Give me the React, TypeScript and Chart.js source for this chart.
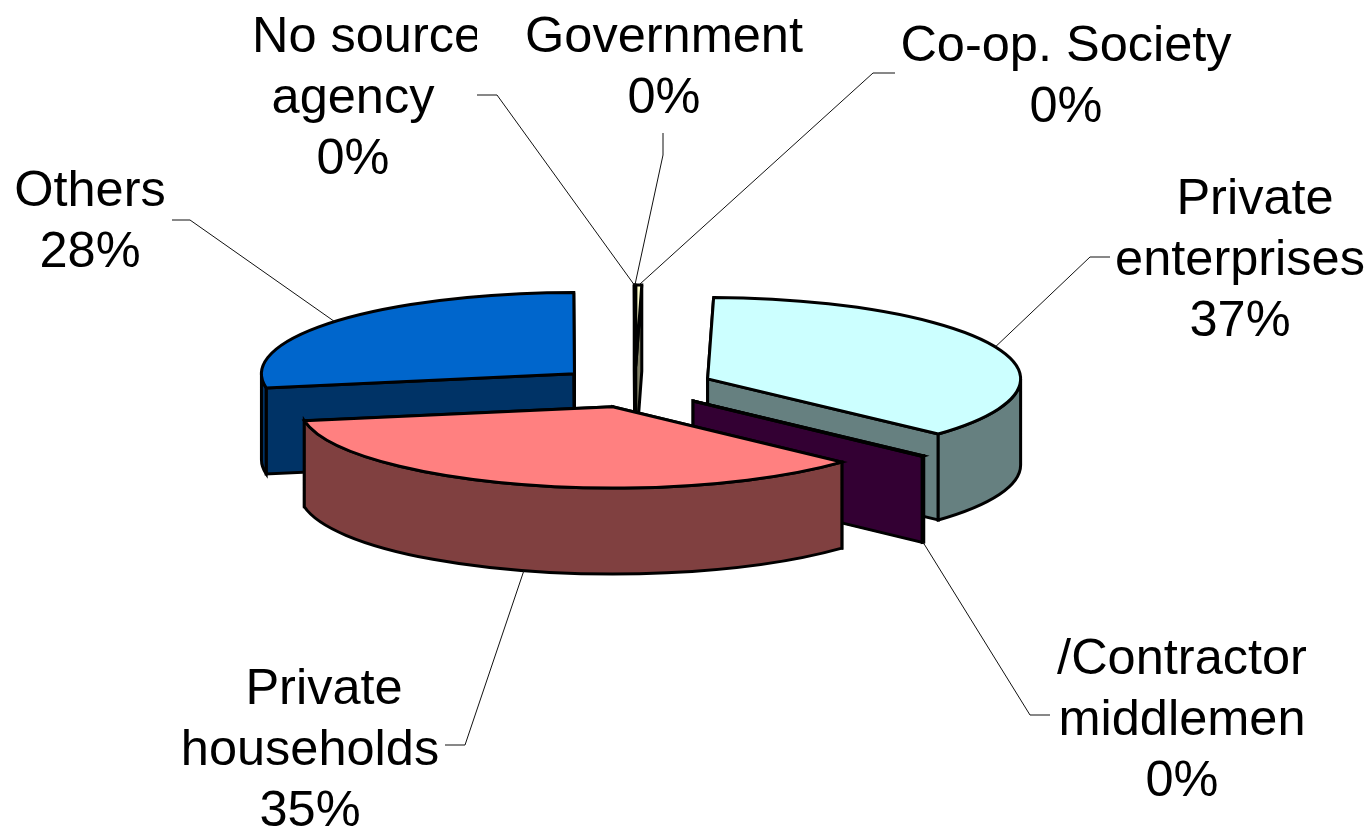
import React, { useEffect, useRef } from "react";
import { Chart, registerables } from "chart.js";

Chart.register(...registerables);

const categories = [
  "Private enterprises",
  "/Contractor middlemen",
  "Private households",
  "Others",
  "No source agency",
  "Government",
  "Co-op. Society",
];
const shares = [36.6, 0.1, 35.4, 27.8, 0.02, 0.02, 0.3];
const topColors = ["#CCFFFF", "#660066", "#FF8080", "#0066CC", "#CCFFCC", "#FFFFCC", "#FFFFCC"];
const sideColors = ["#668080", "#330033", "#804040", "#003366", "#668066", "#808066", "#808066"];

const paintOrder = [3, 4, 5, 6, 0, 1, 2];

const TILT = 0.26;
const DEPTH = 86;
const EXPLODE = 79;
const RADIUS = 313;
const FONT = '50.5px "Liberation Sans", Arial, sans-serif';
const LINE_GAP = 61;

type LabelLayout = {
  index: number;
  lines: string[];
  xs: number[];
  y: number;
  clipRight?: number;
  anchor: "top" | "bottom";
  elbow: [number, number];
  stubX: number;
};

const labelLayouts: LabelLayout[] = [
  { index: 0, lines: ["Private", "enterprises"], xs: [1255, 1240, 1240], y: 200, anchor: "top", elbow: [1090, 257], stubX: 1110 },
  { index: 1, lines: ["/Contractor", "middlemen"], xs: [1182, 1182, 1182], y: 660, anchor: "bottom", elbow: [1030, 715], stubX: 1050 },
  { index: 2, lines: ["Private", "households"], xs: [324, 310, 310], y: 690, anchor: "bottom", elbow: [465, 745], stubX: 445 },
  { index: 3, lines: ["Others"], xs: [90, 90], y: 192, anchor: "top", elbow: [190, 220], stubX: 172 },
  { index: 4, lines: ["No source", "agency"], xs: [367, 353, 353], y: 38, clipRight: 477, anchor: "top", elbow: [497, 95], stubX: 477 },
  { index: 5, lines: ["Government"], xs: [664, 664], y: 38, anchor: "top", elbow: [663, 155], stubX: 663 },
  { index: 6, lines: ["Co-op. Society"], xs: [1066, 1066], y: 47, anchor: "top", elbow: [873, 73], stubX: 895 },
];

const pie3dPlugin = {
  id: "pie3d",
  beforeDatasetsDraw(chart: any) {
    const ctx: CanvasRenderingContext2D = chart.ctx;
    const arcs: any[] = chart.getDatasetMeta(0).data;
    const total = shares.reduce((a, b) => a + b, 0);

    const geo = (arc: any) => {
      const p = arc.getProps(["x", "y", "startAngle", "endAngle", "outerRadius"], true);
      const mid = (p.startAngle + p.endAngle) / 2;
      const ax = p.x + Math.cos(mid) * EXPLODE;
      const ay = p.y + Math.sin(mid) * EXPLODE * TILT;
      return { ...p, mid, ax, ay };
    };
    const rim = (g: any, a: number, drop = 0): [number, number] => [
      g.ax + Math.cos(a) * g.outerRadius,
      g.ay + Math.sin(a) * g.outerRadius * TILT + drop,
    ];
    const ellipse = (g: any, from: number, to: number, drop: number, ccw = false) => {
      ctx.ellipse(g.ax, g.ay + drop, g.outerRadius, g.outerRadius * TILT, 0, from, to, ccw);
    };
    const finish = (fill: string) => {
      ctx.closePath();
      ctx.fillStyle = fill;
      ctx.fill();
      ctx.lineWidth = 3;
      ctx.lineJoin = "miter";
      ctx.strokeStyle = "#000000";
      ctx.stroke();
    };

    for (const i of paintOrder) {
      const arc = arcs[i];
      const g = geo(arc);
      // radial cut faces
      for (const a of [g.startAngle, g.endAngle]) {
        const r0 = rim(g, a);
        const r1 = rim(g, a, DEPTH);
        ctx.beginPath();
        ctx.moveTo(g.ax, g.ay);
        ctx.lineTo(r0[0], r0[1]);
        ctx.lineTo(r1[0], r1[1]);
        ctx.lineTo(g.ax, g.ay + DEPTH);
        finish(sideColors[i]);
      }
      // outer wall, front half only
      for (const k of [-1, 0, 1]) {
        const from = Math.max(g.startAngle, 2 * Math.PI * k);
        const to = Math.min(g.endAngle, 2 * Math.PI * k + Math.PI);
        if (to <= from) continue;
        ctx.beginPath();
        ellipse(g, from, to, 0);
        ellipse(g, to, from, DEPTH, true);
        finish(sideColors[i]);
      }
      // top face, filled by the library's own arc element
      ctx.save();
      ctx.translate(g.ax, g.ay);
      ctx.scale(1, TILT);
      ctx.translate(-g.x, -g.y);
      arc.draw(ctx);
      ctx.restore();
      ctx.beginPath();
      ctx.moveTo(g.ax, g.ay);
      ellipse(g, g.startAngle, g.endAngle, 0);
      ctx.closePath();
      ctx.lineWidth = 3;
      ctx.strokeStyle = "#000000";
      ctx.stroke();
    }

    // leader lines
    for (const l of labelLayouts) {
      const g = geo(arcs[l.index]);
      const drop = l.anchor === "bottom" ? DEPTH : 0;
      const start = rim(g, g.mid, drop);
      ctx.beginPath();
      ctx.moveTo(start[0], start[1]);
      ctx.lineTo(l.elbow[0], l.elbow[1]);
      if (l.index === 5) ctx.lineTo(l.stubX, l.elbow[1] - 22);
      else ctx.lineTo(l.stubX, l.elbow[1]);
      ctx.lineWidth = 1;
      ctx.strokeStyle = "#111111";
      ctx.stroke();
    }

    // labels
    ctx.font = FONT;
    ctx.fillStyle = "#000000";
    ctx.textAlign = "center";
    ctx.textBaseline = "middle";
    for (const l of labelLayouts) {
      const pct = `${Math.round((shares[l.index] / total) * 100)}%`;
      const rows = [...l.lines, pct];
      rows.forEach((row, r) => {
        ctx.save();
        if (l.clipRight !== undefined && r === 0) {
          ctx.beginPath();
          ctx.rect(0, 0, l.clipRight, chart.height);
          ctx.clip();
        }
        ctx.fillText(row, l.xs[r], l.y + r * LINE_GAP);
        ctx.restore();
      });
    }
    return false;
  },
};

export default function App() {
  const ref = useRef<HTMLCanvasElement>(null);
  useEffect(() => {
    const chart = new Chart(ref.current as HTMLCanvasElement, {
      type: "pie",
      data: {
        labels: categories,
        datasets: [
          {
            data: shares,
            backgroundColor: topColors,
            borderWidth: 0,
          },
        ],
      },
      options: {
        responsive: false,
        animation: false,
        radius: RADIUS,
        rotation: 1.1,
        layout: { padding: { left: 0, top: 0, right: 102, bottom: 54 } },
        plugins: { legend: { display: false }, tooltip: { enabled: false } },
      } as any,
      plugins: [pie3dPlugin as any],
    });
    return () => chart.destroy();
  }, []);
  return (
    <div style={{ position: "absolute", left: 0, top: 0, width: 1372, height: 828, background: "#fff" }}>
      <canvas ref={ref} width={1372} height={828} style={{ display: "block" }} />
    </div>
  );
}
